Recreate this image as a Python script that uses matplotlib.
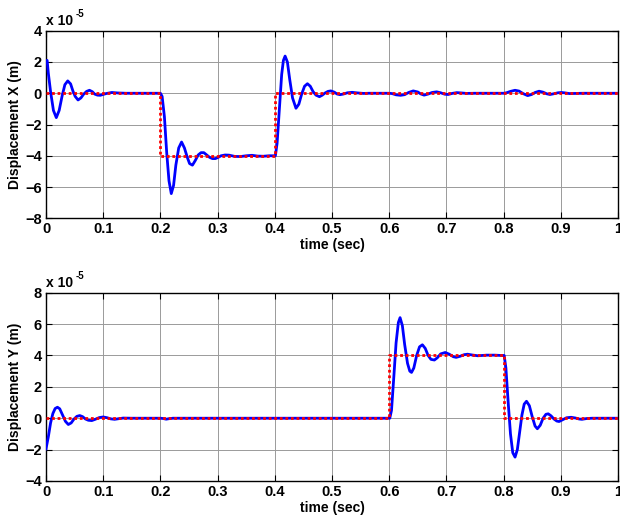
import numpy as np
import matplotlib.pyplot as plt

plt.rcParams['font.family'] = ['Liberation Sans', 'DejaVu Sans']
plt.rcParams['font.weight'] = 'bold'

# displacement values in units of 1e-5 m

# X response (blue)
t_x = [0, 0.002, 0.004, 0.008, 0.013, 0.018, 0.023, 0.028, 0.033, 0.038, 0.043, 0.047,
       0.051, 0.056, 0.061, 0.066, 0.071, 0.076, 0.081, 0.085, 0.090, 0.095, 0.105,
       0.115, 0.125, 0.14, 0.2,
       0.203, 0.207, 0.211, 0.215, 0.219, 0.223, 0.227, 0.232, 0.237, 0.242, 0.247,
       0.251, 0.256, 0.261, 0.266, 0.271, 0.276, 0.281, 0.286, 0.291, 0.296, 0.301,
       0.306, 0.313, 0.32, 0.33, 0.34, 0.35, 0.36, 0.37, 0.38, 0.39, 0.40,
       0.401, 0.404, 0.408, 0.412, 0.415, 0.418, 0.422, 0.426, 0.431, 0.437, 0.442,
       0.447, 0.452, 0.457, 0.462, 0.467, 0.472, 0.478, 0.483, 0.488, 0.493, 0.498,
       0.504, 0.509, 0.514, 0.520, 0.527, 0.535, 0.545, 0.555, 0.565, 0.6,
       0.605, 0.612, 0.62, 0.627, 0.634, 0.642, 0.65, 0.655, 0.661, 0.668, 0.675,
       0.683, 0.69, 0.697, 0.703, 0.71, 0.718, 0.726, 0.735, 0.75, 0.8,
       0.805, 0.812, 0.82, 0.827, 0.834, 0.842, 0.849, 0.855, 0.862, 0.869, 0.875,
       0.881, 0.888, 0.895, 0.901, 0.908, 0.915, 0.925, 0.94, 1.0]
disp_x = [2.07, 2.1, 1.3, 0.1, -1.1, -1.56, -1.1, -0.2, 0.55, 0.79, 0.6, 0.15,
          -0.2, -0.43, -0.3, -0.05, 0.12, 0.19, 0.1, -0.05, -0.12, -0.13, -0.02,
          0.05, 0.02, 0.0, 0.0,
          -0.2, -1.5, -3.8, -5.6, -6.42, -5.9, -4.6, -3.5, -3.12, -3.5, -4.1,
          -4.5, -4.6, -4.3, -3.95, -3.8, -3.8, -3.95, -4.1, -4.18, -4.18, -4.1,
          -4.0, -3.95, -3.96, -4.04, -4.05, -4.0, -3.97, -4.02, -4.03, -4.0, -4.0,
          -4.0, -3.2, -1.0, 1.2, 2.1, 2.38, 2.0, 0.9, -0.3, -0.96, -0.7,
          -0.05, 0.45, 0.61, 0.45, 0.1, -0.12, -0.22, -0.12, 0.02, 0.12, 0.15,
          0.07, -0.05, -0.09, -0.05, 0.03, 0.06, 0.02, -0.01, 0.0, 0.0,
          -0.02, -0.1, -0.13, -0.09, 0.05, 0.15, 0.08, -0.04, -0.12, -0.05, 0.05,
          0.09, 0.03, -0.06, -0.08, -0.01, 0.04, 0.02, -0.01, 0.0, 0.0,
          0.03, 0.12, 0.19, 0.14, -0.02, -0.15, -0.08, 0.05, 0.13, 0.07, -0.03,
          -0.08, -0.03, 0.03, 0.05, 0.02, -0.02, -0.01, 0.0, 0.0]

# X reference (red dotted)
t_ref_x = [0, 0.2, 0.2, 0.4, 0.4, 1.0]
ref_x = [0, 0, -4, -4, 0, 0]

# Y response (blue)
t_y = [0, 0.004, 0.008, 0.012, 0.016, 0.020, 0.024, 0.029, 0.034, 0.039, 0.044,
       0.049, 0.054, 0.059, 0.064, 0.069, 0.074, 0.080, 0.086, 0.093, 0.100,
       0.107, 0.113, 0.120, 0.127, 0.135, 0.15, 0.2, 0.205, 0.21, 0.215, 0.222, 0.6,
       0.601, 0.604, 0.608, 0.612, 0.616, 0.619, 0.623, 0.627, 0.632, 0.636, 0.639,
       0.643, 0.648, 0.653, 0.658, 0.663, 0.668, 0.673, 0.679, 0.684, 0.690, 0.698,
       0.705, 0.712, 0.717, 0.724, 0.731, 0.737, 0.745, 0.755, 0.77, 0.785, 0.795, 0.80,
       0.801, 0.804, 0.808, 0.812, 0.816, 0.820, 0.824, 0.828, 0.832, 0.836, 0.840,
       0.845, 0.850, 0.855, 0.859, 0.864, 0.869, 0.874, 0.878, 0.883, 0.888, 0.893,
       0.897, 0.903, 0.910, 0.918, 0.926, 0.932, 0.937, 0.945, 0.955, 1.0]
disp_y = [-1.95, -1.2, -0.3, 0.3, 0.62, 0.70, 0.6, 0.2, -0.2, -0.40, -0.3,
          -0.05, 0.12, 0.17, 0.1, -0.05, -0.13, -0.15, -0.07, 0.04, 0.08,
          0.03, -0.04, -0.07, -0.03, 0.01, 0.0, 0.0, -0.02, -0.06, -0.03, 0.0, 0.0,
          0.0, 0.5, 2.6, 4.8, 6.1, 6.41, 5.9, 4.7, 3.5, 3.0, 2.92,
          3.2, 4.0, 4.55, 4.68, 4.45, 4.0, 3.75, 3.71, 3.85, 4.1, 4.19,
          4.08, 3.92, 3.88, 3.95, 4.05, 4.08, 4.03, 3.98, 4.02, 4.02, 4.0, 4.0,
          4.0, 3.2, 1.0, -1.0, -2.2, -2.48, -2.0, -0.9, 0.2, 0.9, 1.08,
          0.8, 0.1, -0.5, -0.67, -0.45, 0.0, 0.25, 0.28, 0.15, -0.05, -0.18,
          -0.21, -0.1, 0.03, 0.06, 0.01, -0.05, -0.07, -0.02, 0.0, 0.0]

# Y reference
t_ref_y = [0, 0.6, 0.6, 0.8, 0.8, 1.0]
ref_y = [0, 0, 4, 4, 0, 0]

xticks = [0, 0.1, 0.2, 0.3, 0.4, 0.5, 0.6, 0.7, 0.8, 0.9, 1]
xticklabels = ['0', '0.1', '0.2', '0.3', '0.4', '0.5', '0.6', '0.7', '0.8', '0.9', '1']

fig = plt.figure(figsize=(6.2, 5.21), dpi=100)
ax1 = fig.add_axes([0.0742, 0.581, 0.9226, 0.360])
ax2 = fig.add_axes([0.0742, 0.0768, 0.9226, 0.3614])

panels = [
    (ax1, t_x, disp_x, t_ref_x, ref_x, [-8, 4], np.arange(-8, 5, 2), 'Displacement X (m)'),
    (ax2, t_y, disp_y, t_ref_y, ref_y, [-4, 8], np.arange(-4, 9, 2), 'Displacement Y (m)'),
]

for ax, t, d, tr, r, ylim, yticks, ylab in panels:
    ax.plot(t, d, color='#0000ff', lw=2.0, zorder=3)
    ax.plot(tr, r, color='#ff0000', lw=2.0, ls=(0, (1, 1)), zorder=4)
    ax.set_xlim(0, 1)
    ax.set_ylim(ylim)
    ax.set_xticks(xticks)
    ax.set_xticklabels(xticklabels)
    ax.set_yticks(yticks)
    ax.grid(True, color='#9a9a9a', lw=0.7, ls='-')
    ax.set_axisbelow(True)
    ax.tick_params(direction='in', top=True, right=True, length=4, labelsize=10.5, pad=3)
    for lab in ax.get_xticklabels() + ax.get_yticklabels():
        lab.set_fontweight('bold')
    for s in ax.spines.values():
        s.set_linewidth(1.0)
    ax.set_xlabel('time (sec)', fontsize=10, fontweight='bold', labelpad=1)
    ax.set_ylabel(ylab, fontsize=10, fontweight='bold', labelpad=2)
    ax.text(0.0, 1.015, 'x 10', transform=ax.transAxes, fontsize=10, fontweight='bold',
            ha='left', va='bottom')
    ax.text(0.052, 1.06, '-5', transform=ax.transAxes, fontsize=7, fontweight='bold',
            ha='left', va='bottom')

fig.savefig('out.png', dpi=100)
